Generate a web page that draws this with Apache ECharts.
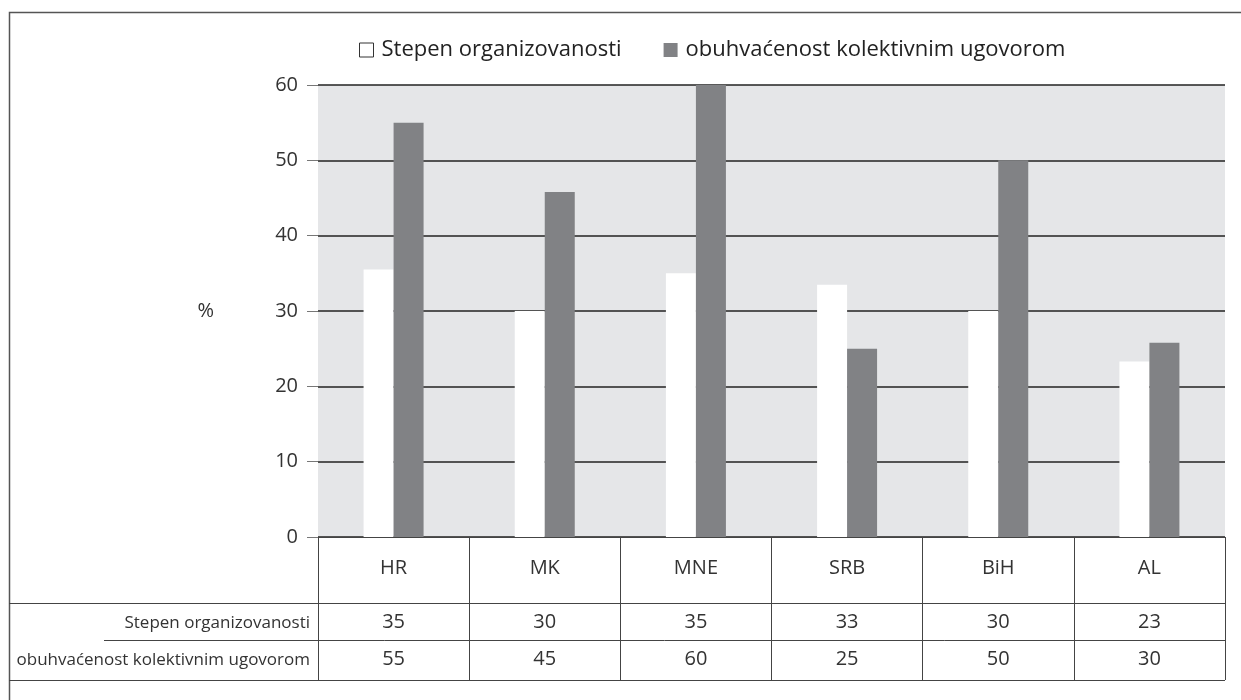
<!DOCTYPE html>
<html>
<head>
<meta charset="utf-8">
<title>Stepen organizovanosti</title>
<script src="https://cdn.jsdelivr.net/npm/echarts@6/dist/echarts.min.js"></script>
<style>
  body { margin: 0; background: #fff; }
  #chart { width: 1241px; height: 700px; }
</style>
</head>
<body>
<div id="chart"></div>
<script>
// podaci
var categories = ['HR', 'MK', 'MNE', 'SRB', 'BiH', 'AL'];
var stepen = [35.5, 30, 35, 33.5, 30, 23.3];
var obuhvat = [55, 45.8, 60, 25, 50, 25.8];
// vrijednosti u tabeli ispod grafika
var stepenTable = ['35', '30', '35', '33', '30', '23'];
var obuhvatTable = ['55', '45', '60', '25', '50', '30'];
var seriesNames = ['Stepen organizovanosti', 'obuhvaćenost kolektivnim ugovorom'];

var font = '"Open Sans", "DejaVu Sans", sans-serif';
var lineColor = '#444';

var myChart = echarts.init(document.getElementById('chart'));
var option = {
  backgroundColor: '#fff',
  textStyle: { fontFamily: font },
  legend: {
    left: 354,
    top: 34,
    itemWidth: 14,
    itemHeight: 14,
    itemGap: 42,
    textStyle: { fontSize: 22, color: '#222', fontFamily: font, padding: [0, 0, 0, 3] },
    data: [
      { name: seriesNames[0], icon: 'rect', itemStyle: { color: '#fff', borderColor: '#333', borderWidth: 1 } },
      { name: seriesNames[1], icon: 'rect' }
    ]
  },
  grid: {
    left: 318,
    right: 16,
    top: 85,
    bottom: 163,
    show: true,
    backgroundColor: '#e5e6e8',
    borderWidth: 0
  },
  xAxis: [
    {
      type: 'category',
      data: categories,
      axisLine: { lineStyle: { color: lineColor, width: 1 } },
      axisTick: { show: true, length: 143, interval: 0, lineStyle: { color: lineColor } },
      axisLabel: { fontSize: 20, color: '#333', margin: 21, fontFamily: font }
    },
    {
      type: 'category',
      data: stepenTable,
      position: 'bottom',
      offset: 66,
      axisLine: { show: false },
      axisTick: { show: false },
      axisLabel: { fontSize: 20, color: '#333', margin: 9, fontFamily: font }
    },
    {
      type: 'category',
      data: obuhvatTable,
      position: 'bottom',
      offset: 103,
      axisLine: { show: false },
      axisTick: { show: false },
      axisLabel: { fontSize: 20, color: '#333', margin: 9, fontFamily: font }
    }
  ],
  yAxis: {
    type: 'value',
    min: 0,
    max: 60,
    interval: 10,
    name: '%',
    nameLocation: 'middle',
    nameRotate: 0,
    nameGap: 104,
    nameTextStyle: { fontSize: 20, color: '#333', fontFamily: font },
    axisLine: { show: false },
    axisTick: { show: true, length: 11, lineStyle: { color: '#777' } },
    axisLabel: { fontSize: 20, color: '#333', margin: 20, fontFamily: font },
    splitLine: { lineStyle: { color: '#222', width: 1.5 } }
  },
  series: [
    {
      name: seriesNames[0],
      type: 'bar',
      data: stepen,
      barWidth: 30,
      barGap: '0%',
      itemStyle: { color: '#ffffff' }
    },
    {
      name: seriesNames[1],
      type: 'bar',
      data: obuhvat,
      barWidth: 30,
      barGap: '0%',
      itemStyle: { color: '#818285' }
    }
  ],
  graphic: [
    // okvir
    { type: 'rect', shape: { x: 9.5, y: 12.5, width: 1260, height: 720 },
      style: { fill: 'none', stroke: '#555', lineWidth: 1.5 }, silent: true },
    // linije tabele
    { type: 'line', shape: { x1: 9, y1: 603.5, x2: 1225, y2: 603.5 }, style: { stroke: lineColor, lineWidth: 1 } },
    { type: 'line', shape: { x1: 104, y1: 640.5, x2: 1225, y2: 640.5 }, style: { stroke: lineColor, lineWidth: 1 } },
    { type: 'line', shape: { x1: 9, y1: 680.5, x2: 1225, y2: 680.5 }, style: { stroke: lineColor, lineWidth: 1 } },
    // nazivi redova
    { type: 'text', x: 310, y: 623, style: { text: seriesNames[0], align: 'right', verticalAlign: 'middle',
      fontSize: 17, fill: '#333', fontFamily: font } },
    { type: 'text', x: 310, y: 660, style: { text: seriesNames[1], align: 'right', verticalAlign: 'middle',
      fontSize: 17, fill: '#333', fontFamily: font } }
  ]
};
option && myChart.setOption(option);
</script>
</body>
</html>
